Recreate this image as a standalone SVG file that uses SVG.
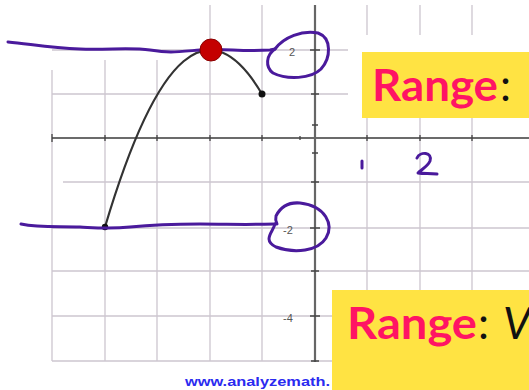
<svg xmlns="http://www.w3.org/2000/svg" width="529" height="390" viewBox="0 0 529 390">
<style>
.grid{stroke:#cdc6cf;stroke-width:1.3;fill:none}
.tick{stroke:#444;stroke-width:1.3}
.lbl{font-family:"Liberation Sans",Arial,sans-serif;font-size:11px;fill:#555}
.pen{stroke:#4a1a9c;stroke-width:3;fill:none;stroke-linecap:round;stroke-linejoin:round}
.rng{font-family:"Lato","Noto Sans",sans-serif;font-weight:bold;font-size:44px;fill:#ff1464}
.blk{font-family:"Lato","Noto Sans",sans-serif;font-size:44px;fill:#111}
.box{fill:#ffe343}
</style>
<rect width="529" height="390" fill="#fff"/>
<g id="grid">
<path class="grid" d="M52,70V361M105,60V361M157,60V361M210,5V361M262,5V361M367,5V35M420,5V35M472,5V35M367,118V290M420,118V290M472,118V290"/>
<path class="grid" d="M52,50H348M52,94H348M63,182H529M52,228H529M52,271H529M52,316H332M52,361H332"/>
</g>
<g id="axes">
<line x1="52" y1="138" x2="529" y2="138" stroke="#3a3a3a" stroke-width="1.6"/>
<line x1="315" y1="5" x2="315" y2="362" stroke="#666" stroke-width="2.2"/>
<path class="tick" d="M52,134V142M105,135V141M157,135V141M210,135V141M262,135V141M300,136V140M367,135V141M420,135V141M472,135V141"/>
<path class="tick" d="M310,50H320M311,94H319M312,125H318M312,153H318M311,182H319M310,228H320M311,271H319M310,316H320M311,361H319"/>
<text class="lbl" x="289" y="56">2</text>
<text class="lbl" x="283" y="234">-2</text>
<text class="lbl" x="283" y="322">-4</text>
</g>
<g id="curve">
<path d="M105,227 Q183.75,-38 262,94" fill="none" stroke="#333" stroke-width="2.2"/>
<circle cx="105" cy="227" r="3.2" fill="#111"/>
<circle cx="262" cy="94" r="3.5" fill="#111"/>
</g>
<g id="pen-top">
<path class="pen" d="M8,42 C30,44 50,48 80,49 S130,47 150,50 S175,52 200,50 S240,52 270,50 L275,49"/>
<path class="pen" d="M275,49 C284,37 302,30 318,33 C332,38 331,58 321,69 C311,79 287,80 273,73 C265,67 266,55 275,49"/>
</g>
<g id="pen-bottom">
<path class="pen" d="M21,224 C40,228 60,226 80,227 S110,229 130,227 S170,224 200,224 S240,225 275,224"/>
<path class="pen" d="M275,224 C273,232 262,240 276,247 C295,254 318,251 326,238 C334,225 326,206 300,203 C288,202 280,208 276,216 C275,220 276,222 277,224"/>
</g>
<g id="handwriting">
<path class="pen" d="M362,161 L362,168" stroke-width="2.5"/>
<path class="pen" d="M417,158 C420,151 433,152 430,161 C428,166 421,170 418,173 C424,174 430,173 437,174" stroke-width="2.5"/>
</g>
<g id="peak">
<circle cx="211" cy="50" r="11" fill="#c40000" stroke="#8a0000" stroke-width="1"/>
</g>
<g id="range-top">
<rect class="box" x="362" y="52" width="167" height="66"/>
<text x="372" y="101" class="rng" textLength="126" lengthAdjust="spacingAndGlyphs">Range</text>
<text x="500" y="101" class="blk">:</text>
</g>
<g id="range-bottom">
<rect class="box" x="332" y="290" width="197" height="100"/>
<text x="347" y="339" class="rng" textLength="130" lengthAdjust="spacingAndGlyphs">Range</text>
<text x="478" y="339" class="blk">:</text>
<text x="503" y="339" class="blk" font-style="italic">V</text>
</g>
<text x="185" y="386" font-family="Liberation Sans,Arial,sans-serif" font-size="13" font-weight="bold" fill="#2b2bf0" textLength="145" lengthAdjust="spacingAndGlyphs">www.analyzemath.</text>
</svg>
